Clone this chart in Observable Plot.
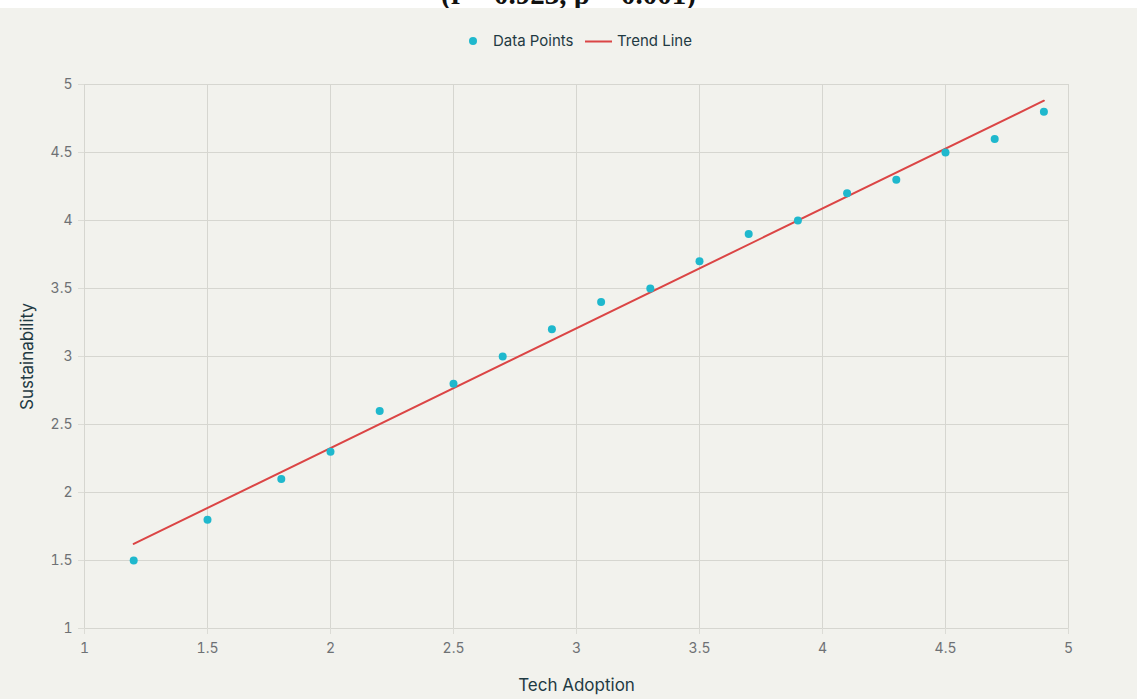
<!DOCTYPE html>
<html>
<head>
<meta charset="utf-8">
<script src="https://cdn.jsdelivr.net/npm/d3@7"></script>
<script src="https://cdn.jsdelivr.net/npm/@observablehq/plot@0.6"></script>
<style>
  html, body { margin: 0; padding: 0; background: #ffffff; }
  #wrap { position: relative; width: 1137px; height: 699px; overflow: hidden; background: #ffffff; }
  #titleClip { position: absolute; left: 0; top: 0; width: 1137px; height: 8px; overflow: hidden; background: #fff; }
  #title { position: absolute; left: 0; width: 1137px; top: -22px; text-align: center;
           font-family: "Liberation Serif", "DejaVu Serif", serif; font-weight: bold; font-size: 29px; line-height: 32px; color: #111; }
  #panel { position: absolute; left: 0; top: 8px; width: 1137px; height: 691px; background: #f2f2ed; }
  #legend { position: absolute; top: 24px; left: 0; width: 1137px; height: 18px;
            font-family: Inter, "Liberation Sans", sans-serif; font-size: 15px; color: #1f3a43; }
  .lg { position: absolute; top: 0; line-height: 18px; white-space: nowrap; }
  #chart { position: absolute; left: 0; top: 0; }
</style>
</head>
<body>
<div id="wrap">
  <div id="titleClip"><div id="title">(r = 0.923, p = 0.001)</div></div>
  <div id="panel">
    <div id="chart"></div>
    <div id="legend">
      <svg class="lg" style="left:468px;top:4px" width="10" height="10"><circle cx="5" cy="5" r="4" fill="#1FB8CD"></circle></svg>
      <span class="lg" style="left:493px">Data Points</span>
      <svg class="lg" style="left:585px;top:8px" width="27" height="3"><line x1="0" x2="27" y1="1.5" y2="1.5" stroke="#DB4545" stroke-width="2"></line></svg>
      <span class="lg" style="left:617px">Trend Line</span>
    </div>
  </div>
</div>
<script>
const techAdoption   = [1.2, 1.5, 1.8, 2.0, 2.2, 2.5, 2.7, 2.9, 3.1, 3.3, 3.5, 3.7, 3.9, 4.1, 4.3, 4.5, 4.7, 4.9];
const sustainability = [1.5, 1.8, 2.1, 2.3, 2.6, 2.8, 3.0, 3.2, 3.4, 3.5, 3.7, 3.9, 4.0, 4.2, 4.3, 4.5, 4.6, 4.8];
const xTicks = [1, 1.5, 2, 2.5, 3, 3.5, 4, 4.5, 5];
const yTicks = [1, 1.5, 2, 2.5, 3, 3.5, 4, 4.5, 5];

const data = techAdoption.map((x, i) => ({x, y: sustainability[i]}));
const fmt = d => String(d);

const chart = Plot.plot({
  width: 1137,
  height: 691,
  marginLeft: 84,
  marginRight: 69,
  marginTop: 76,
  marginBottom: 71,
  style: {background: "transparent", fontFamily: "Inter, 'Liberation Sans', sans-serif", fontSize: "14px", color: "#6e7174"},
  x: {domain: [1, 5]},
  y: {domain: [1, 5]},
  marks: [
    Plot.gridX(xTicks, {stroke: "#d6d6d0", strokeOpacity: 1, strokeWidth: 1}),
    Plot.gridY(yTicks, {stroke: "#d6d6d0", strokeOpacity: 1, strokeWidth: 1}),
    Plot.axisX(xTicks, {tickSize: 6, stroke: "#dcdcd6", tickPadding: 9, fill: "#6e7174", tickFormat: fmt,
      label: "Tech Adoption", labelAnchor: "center", labelOffset: 62, labelArrow: "none"}),
    Plot.axisY(yTicks, {tickSize: 6, stroke: "#dcdcd6", tickPadding: 6, fill: "#6e7174", tickFormat: fmt,
      label: "Sustainability", labelAnchor: "center", labelOffset: 64, labelArrow: "none"}),
    Plot.linearRegressionY(data, {x: "x", y: "y", stroke: "#DB4545", strokeWidth: 2, ci: 0}),
    Plot.dot(data, {x: "x", y: "y", r: 4, fill: "#1FB8CD", stroke: "none"})
  ]
});
document.getElementById("chart").appendChild(chart);
d3.select(chart).selectAll("[aria-label='x-axis label'] text, [aria-label='y-axis label'] text")
  .attr("fill", "#1f3a43").style("font-size", "17px");
</script>
</body>
</html>
